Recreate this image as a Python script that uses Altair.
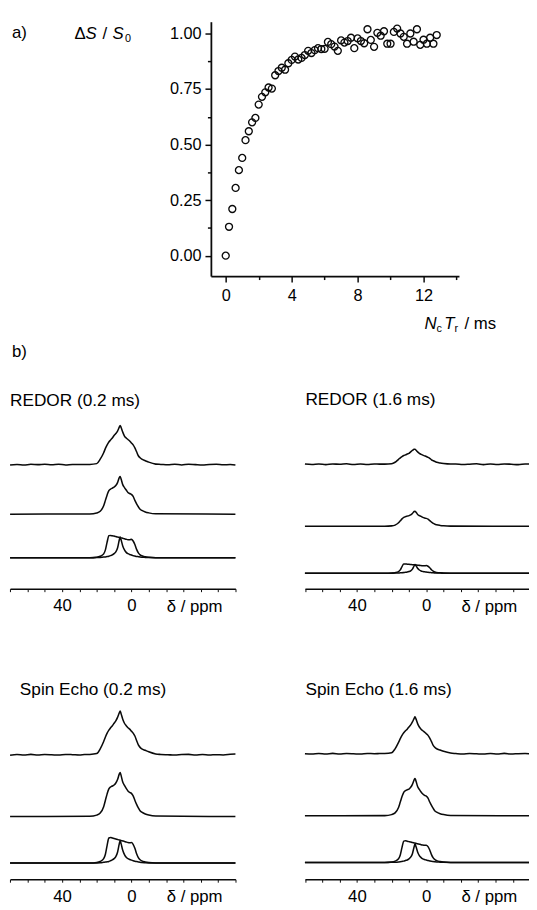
import altair as alt
import pandas as pd

# ---------------- panel a data ----------------
NT_MS = [0.0, 0.2, 0.4, 0.6, 0.8, 1.0, 1.2, 1.4, 1.6, 1.8, 2.0, 2.2, 2.4, 2.6, 2.8,
         3.0, 3.2, 3.4, 3.6, 3.8, 4.0, 4.2, 4.4, 4.6, 4.8, 5.0, 5.2, 5.4, 5.6, 5.8,
         6.0, 6.2, 6.4, 6.6, 6.8, 7.0, 7.2, 7.4, 7.6, 7.8, 8.0, 8.2, 8.4, 8.6, 8.8,
         9.0, 9.2, 9.4, 9.6, 9.8, 10.0, 10.2, 10.4, 10.6, 10.8, 11.0, 11.2, 11.4,
         11.6, 11.8, 12.0, 12.2, 12.4, 12.6, 12.8]
DS_S0 = [0.00, 0.13, 0.21, 0.305, 0.385, 0.44, 0.52, 0.56, 0.60, 0.62, 0.68, 0.715,
         0.735, 0.757, 0.752, 0.812, 0.831, 0.846, 0.837, 0.866, 0.881, 0.896, 0.883,
         0.89, 0.903, 0.922, 0.912, 0.925, 0.934, 0.93, 0.931, 0.962, 0.952, 0.941,
         0.922, 0.969, 0.959, 0.966, 0.981, 0.934, 0.978, 0.966, 0.956, 1.019, 0.971,
         0.94, 1.003, 0.99, 1.01, 0.954, 0.954, 1.007, 1.022, 1.0, 0.985, 0.954, 1.0,
         0.963, 1.019, 0.949, 0.972, 0.954, 0.981, 0.954, 0.993]

# ---------------- panel b data (intensity, a.u.) ----------------
PEAK_PPM = [24, 20, 18, 16, 15, 14, 13, 12, 11, 10, 9, 8, 7, 6.5, 6, 5, 4, 3, 2, 1,
            0, -1, -2, -3, -4, -5, -6, -8, -10, -14]
BASE_L_PPM = [70, 66, 62, 58, 54, 50, 46, 42, 38, 34, 30, 27]
BASE_R_PPM = [-17, -21, -25, -29, -33, -37, -41, -45, -49, -53, -57, -60]

# REDOR 0.2 ms
R02_EXP = [0.2, 1.0, 5.5, 12, 16.5, 20, 23, 25, 27, 29.5, 31.5, 34, 38, 39.7, 38, 33,
           29, 27, 25.5, 24, 22, 20, 17, 13, 9, 7, 5.5, 4, 2.5, 0.5]
R02_NOISE_L = [-0.3, 0.2, -0.4, 0.3, 0.0, 0.4, -0.2, 0.3, -0.3, 0.2, 0.1, 0.2]
R02_NOISE_R = [0.2, -0.2, 0.3, -0.3, 0.4, 0.0, -0.3, 0.2, 0.3, -0.2, 0.1, -0.3]
R02_SIM = [0.2, 1.2, 3, 8.5, 14, 19.5, 24, 25.5, 26.5, 27.5, 29, 32, 37, 38.3, 36, 30,
           27, 24.5, 22, 21, 20, 18, 14, 10.5, 7.5, 5, 3.8, 2.2, 1.3, 0.4]
R02_BROAD = [0, 0.5, 1.5, 4, 8, 16, 22.5, 22.7, 22.3, 22, 21.5, 21, 20.7, 20.5, 20.2,
             19.8, 19.3, 18.8, 18.4, 18.3, 18.7, 17, 13.5, 8.5, 5, 3, 2, 1, 0.5, 0.1]
R02_NARROW = [0, 0.2, 0.4, 0.7, 0.9, 1.2, 1.6, 2.2, 3, 4.2, 6, 10, 18, 21, 18.5, 12, 8,
              5.5, 4.2, 3.4, 2.8, 2.2, 1.8, 1.4, 1.1, 0.8, 0.6, 0.4, 0.2, 0.05]

# REDOR 1.6 ms
R16_EXP = [0.1, 0.5, 2, 5, 6.5, 7.8, 8.8, 9.5, 10.3, 11, 12.5, 14, 15.2, 15.3, 14.5,
           12.5, 11, 10, 9.2, 8.5, 7.8, 7, 6, 4.5, 3.5, 2.7, 2, 1.2, 0.7, 0.2]
R16_NOISE_L = [0.2, -0.3, 0.3, -0.4, 0.2, 0.0, 0.4, -0.3, 0.3, -0.2, 0.2, 0.1]
R16_NOISE_R = [0.3, -0.3, 0.0, 0.4, -0.4, 0.2, -0.3, 0.3, 0.0, -0.4, 0.2, 0.3]
R16_SIM = [0.1, 0.4, 1.2, 3.5, 5.5, 7.5, 9, 9.8, 10.3, 10.8, 11.5, 13, 15, 15.3, 14.5,
           12, 10.8, 10, 9, 8.4, 8, 7.2, 5.8, 4.2, 3, 2, 1.5, 0.9, 0.5, 0.15]
R16_BROAD = [0, 0.2, 0.6, 1.7, 3.4, 6.8, 9.3, 9.4, 9.2, 9.1, 8.9, 8.7, 8.6, 8.5, 8.4,
             8.2, 8.0, 7.8, 7.6, 7.6, 7.8, 7.1, 5.6, 3.5, 2.1, 1.2, 0.8, 0.4, 0.2, 0.05]
R16_NARROW = [0, 0.1, 0.15, 0.3, 0.4, 0.5, 0.7, 0.9, 1.2, 1.7, 2.5, 4.2, 7.5, 8.8, 7.8,
              5, 3.3, 2.3, 1.8, 1.4, 1.2, 0.9, 0.75, 0.6, 0.45, 0.35, 0.25, 0.15, 0.1, 0.02]

# Spin Echo 0.2 ms
SE02_EXP = [0.3, 1.2, 6, 13.5, 18, 22, 25, 27.5, 29.5, 32, 34.5, 38, 42.5, 44.3, 42,
            36, 32, 29.5, 27.5, 26, 24, 22, 19, 14.5, 10, 7.5, 6, 4.5, 3, 0.8]
SE02_NOISE_L = [-0.4, 0.3, -0.2, 0.4, -0.3, 0.2, 0.0, -0.3, 0.3, 0.1, -0.2, 0.2]
SE02_NOISE_R = [0.3, 0.0, -0.3, 0.2, 0.4, -0.2, 0.3, -0.3, 0.1, -0.2, 0.4, 0.9]
SE02_SIM = [0.2, 1.4, 3.5, 10, 16.5, 23, 28, 30, 31, 32, 34, 37.5, 43, 44.7, 42, 35,
            31.5, 28.5, 26, 24.5, 23.5, 21, 16.5, 12.3, 8.8, 5.8, 4.4, 2.6, 1.5, 0.5]
SE02_BROAD = [0, 0.6, 1.7, 4.5, 9, 18, 25.5, 26, 25.5, 25, 24.5, 24, 23.5, 23.3, 23,
              22.5, 22, 21.4, 20.9, 20.7, 20.8, 19, 15, 9.5, 5.6, 3.4, 2.2, 1.1, 0.5, 0.1]
SE02_NARROW = [0, 0.2, 0.4, 0.8, 1, 1.3, 1.7, 2.4, 3.2, 4.5, 6.5, 11, 19.5, 22.7, 20,
               13, 8.6, 6, 4.5, 3.7, 3, 2.4, 1.9, 1.5, 1.2, 0.9, 0.65, 0.4, 0.2, 0.05]

# Spin Echo 1.6 ms
SE16_EXP = [0.3, 1, 5, 11.5, 15.3, 18.7, 21.3, 23.4, 25, 27.2, 29.3, 32.3, 36, 37.7,
            35.7, 30.6, 27.2, 25, 23.4, 22, 20.4, 18.7, 16, 12.3, 8.5, 6.4, 5.1, 3.8, 2.5, 0.7]
SE16_NOISE_L = [0.1, -0.3, 0.3, -0.2, 0.4, -0.3, 0.2, 0.0, -0.3, 0.3, 0.1, 0.2]
SE16_NOISE_R = [0.2, -0.3, 0.3, 0.0, -0.3, 0.3, -0.2, 0.4, -0.3, 0.1, 0.3, -0.2]
SE16_SIM = [0.2, 1.2, 3, 8.5, 14, 19.5, 23.8, 25.5, 26.4, 27.2, 29, 32, 36.5, 38, 35.7,
            29.8, 26.8, 24.2, 22.1, 20.8, 20, 17.9, 14, 10.5, 7.5, 4.9, 3.7, 2.2, 1.3, 0.4]
SE16_BROAD = [0, 0.5, 1.4, 3.8, 7.6, 15.3, 21.7, 22, 21.6, 21.2, 20.8, 20.3, 19.9, 19.7,
              19.5, 19.1, 18.6, 18.1, 17.7, 17.5, 17.6, 16.1, 12.7, 8, 4.7, 2.9, 1.9, 0.9, 0.4, 0.1]
SE16_NARROW = [0, 0.15, 0.3, 0.6, 0.8, 1.1, 1.4, 2, 2.6, 3.7, 5.4, 9, 16, 18.7, 16.5,
               10.7, 7, 5, 3.7, 3, 2.5, 2, 1.6, 1.2, 1, 0.75, 0.55, 0.35, 0.15, 0.04]

# vertical stacking offsets of the traces (exp, sim, components)
OFF_R02 = (126, 75.7, 31.4)
OFF_R16 = (126.4, 63.4, 15.7)
OFF_SE02 = (126.4, 63.7, 16.4)
OFF_SE16 = (127.4, 64.4, 17.0)

FONT = "Liberation Sans"
W, H = 529, 902
INK = "#0a0a0a"


def spectra_df(exp, nl, nr, sim, broad, narrow, off):
    rows = []
    for p, v in zip(BASE_L_PPM + PEAK_PPM + BASE_R_PPM, nl + exp + nr):
        rows.append({"ppm": p, "y": v + off[0], "trace": "exp"})
    ppm_s = [70] + PEAK_PPM + [-60]
    for name, arr, o in (("sim", sim, off[1]), ("broad", broad, off[2]),
                         ("narrow", narrow, off[2])):
        for p, v in zip(ppm_s, [0] + arr + [0]):
            rows.append({"ppm": p, "y": v + o, "trace": name})
    return pd.DataFrame(rows)


def spectrum(df, x_range, axis_y):
    return alt.Chart(df).mark_line(color=INK, strokeWidth=1.55, interpolate="monotone").encode(
        x=alt.X("ppm:Q",
                scale=alt.Scale(domain=[70, -60], range=x_range, nice=False, zero=False),
                axis=alt.Axis(orient="bottom", offset=axis_y - H,
                              values=[70, 60, 50, 40, 30, 20, 10, 0, -10, -20, -30, -40, -50, -60],
                              labelExpr="datum.value == 40 || datum.value == 0 ? datum.label : ''",
                              tickSize=3, tickWidth=1, tickColor=INK, domainColor=INK,
                              domainWidth=1.4, labelPadding=6.5, labelFontSize=17,
                              labelOverlap=False, grid=False, title=None)),
        y=alt.Y("y:Q",
                scale=alt.Scale(domain=[0, 180], range=[axis_y, axis_y - 180], nice=False, zero=False),
                axis=None),
        detail="trace:N",
    )


def txt(s, x, y, size=17, style="normal", align="left"):
    return alt.Chart(pd.DataFrame({"k": [0]})).mark_text(
        text=s, font=FONT, fontSize=size, fontStyle=style, align=align,
        baseline="alphabetic", color="black"
    ).encode(x=alt.value(x), y=alt.value(y))


# ---------------- panel a ----------------
df_a = pd.DataFrame({"t": NT_MS, "v": DS_S0})
xa = alt.Scale(domain=[-0.9, 14.15], range=[206, 457.9], nice=False, zero=False)
ya = alt.Scale(domain=[-0.092, 1.053], range=[265.3, 7], nice=False, zero=False)
AX_A_Y = 265.3

pts = alt.Chart(df_a).mark_point(shape="circle", filled=False, size=50, color=INK,
                                 strokeWidth=1.35, opacity=1).encode(
    x=alt.X("t:Q", scale=xa,
            axis=alt.Axis(orient="bottom", offset=AX_A_Y - H, values=[0, 4, 8, 12],
                          format="d", tickSize=6, tickWidth=1.5, tickColor=INK,
                          domainColor=INK, domainWidth=1.8, labelPadding=6,
                          labelFontSize=16.5, labelOverlap=False, grid=False, title=None)),
    y=alt.Y("v:Q", scale=ya,
            axis=alt.Axis(orient="left", offset=-206, values=[0, 0.25, 0.5, 0.75, 1.0],
                          format=".2f", tickSize=6, tickWidth=1.5, tickColor=INK,
                          domainColor=INK, domainWidth=1.8, labelPadding=4,
                          labelFontSize=16.5, labelOverlap=False, grid=False, title=None)),
)

minor = alt.Chart(df_a).mark_point(opacity=0).encode(
    x=alt.X("t:Q", scale=xa,
            axis=alt.Axis(orient="bottom", offset=AX_A_Y - H, values=[2, 6, 10, 14],
                          labels=False, domain=False, tickSize=3.5, tickWidth=1.5,
                          tickColor=INK, grid=False, title=None)),
    y=alt.Y("v:Q", scale=ya,
            axis=alt.Axis(orient="left", offset=-206, values=[0.125, 0.375, 0.625, 0.875],
                          labels=False, domain=False, tickSize=3.5, tickWidth=1.5,
                          tickColor=INK, grid=False, title=None)),
)

# ---------------- panel b ----------------
LEFT_R = [2.1, 230.9]
RIGHT_R = [301.5, 530.3]
TOP_AX = 582.7
BOT_AX = 877.7

b1 = spectrum(spectra_df(R02_EXP, R02_NOISE_L, R02_NOISE_R, R02_SIM, R02_BROAD, R02_NARROW, OFF_R02), LEFT_R, TOP_AX)
b2 = spectrum(spectra_df(R16_EXP, R16_NOISE_L, R16_NOISE_R, R16_SIM, R16_BROAD, R16_NARROW, OFF_R16), RIGHT_R, TOP_AX)
b3 = spectrum(spectra_df(SE02_EXP, SE02_NOISE_L, SE02_NOISE_R, SE02_SIM, SE02_BROAD, SE02_NARROW, OFF_SE02), LEFT_R, BOT_AX)
b4 = spectrum(spectra_df(SE16_EXP, SE16_NOISE_L, SE16_NOISE_R, SE16_SIM, SE16_BROAD, SE16_NARROW, OFF_SE16), RIGHT_R, BOT_AX)

texts = [
    txt("a)", 4, 23.5),
    txt("Δ", 67.5, 24.3),
    txt("S", 78.8, 24.3, style="italic"),
    txt("/", 96, 24.3),
    txt("S", 106.2, 24.3, style="italic"),
    txt("0", 118.9, 27.8, size=11),
    txt("N", 423, 319, style="italic"),
    txt("c", 435, 322.5, size=11),
    txt("T", 443, 319, style="italic"),
    txt("r", 453.3, 322.5, size=11),
    txt("/ ms", 463.5, 319),
    txt("b)", 4, 347.5),
    txt("REDOR (0.2 ms)", 2, 397, size=17.5),
    txt("REDOR (1.6 ms)", 302, 396, size=17.5),
    txt("Spin Echo (0.2 ms)", 12, 691, size=17.5),
    txt("Spin Echo (1.6 ms)", 302, 691, size=17.5),
    txt("δ / ppm", 189.5, 606, align="center"),
    txt("δ / ppm", 488.7, 606, align="center"),
    txt("δ / ppm", 189.5, 901, align="center"),
    txt("δ / ppm", 488.7, 901, align="center"),
]

chart = alt.layer(pts, minor, b1, b2, b3, b4, *texts).resolve_scale(
    x="independent", y="independent"
).resolve_axis(
    x="independent", y="independent"
).properties(
    width=W, height=H, padding=0, autosize=alt.AutoSizeParams(type="none")
).configure_view(stroke=None).configure_axis(
    labelFont=FONT, labelColor="black"
)

chart.save("out.html", embed_options={"renderer": "svg", "actions": False})
